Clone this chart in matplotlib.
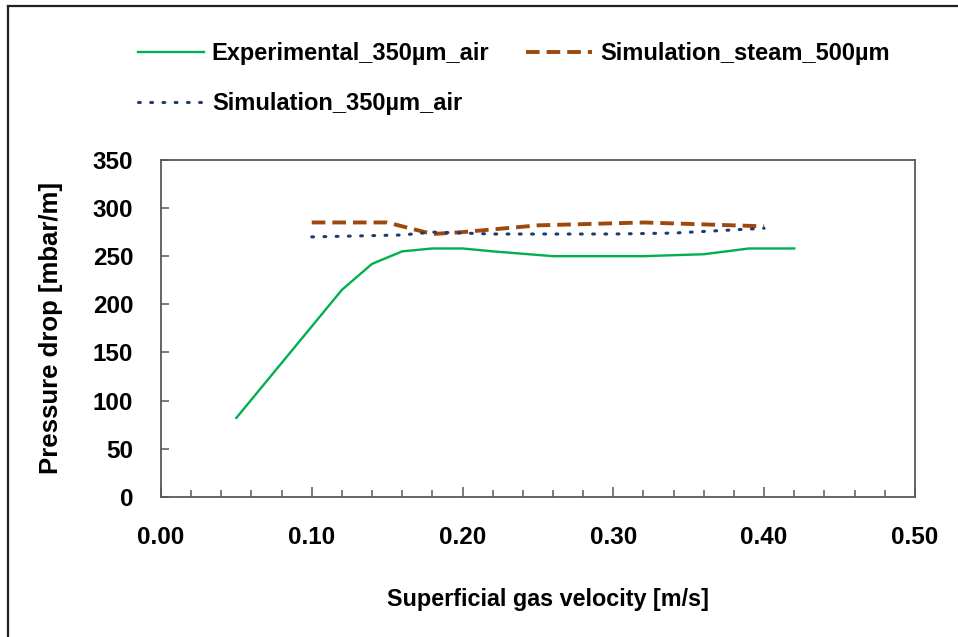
import matplotlib
matplotlib.use('Agg')
import matplotlib.pyplot as plt
from matplotlib.lines import Line2D
from matplotlib.ticker import MultipleLocator, FormatStrFormatter

# ------------------------------------------------------------
# data
# ------------------------------------------------------------
exp_x = [0.05, 0.10, 0.12, 0.14, 0.16, 0.18, 0.20, 0.22, 0.26, 0.32, 0.36, 0.39, 0.42]
exp_y = [82, 177, 215, 242, 255, 258, 258, 255, 250, 250, 252, 258, 258]

steam_x = [0.10, 0.15, 0.18, 0.20, 0.25, 0.32, 0.36, 0.40]
steam_y = [285, 285, 273, 275, 282, 285, 283, 281]

air_x = [0.10, 0.16, 0.18, 0.20, 0.22, 0.30, 0.34, 0.40]
air_y = [270, 272, 275, 274, 273, 273, 274, 279]

labels = ['Experimental_350µm_air', 'Simulation_steam_500µm', 'Simulation_350µm_air']

# ------------------------------------------------------------
# style
# ------------------------------------------------------------
plt.rcParams['font.family'] = ['Liberation Sans', 'DejaVu Sans']
plt.rcParams['font.weight'] = 'bold'
frame_col = '#595959'

fig = plt.figure(figsize=(9.58, 6.37), dpi=100)
ax = fig.add_axes([0.168, 0.220, 0.787, 0.529])

l_exp, = ax.plot(exp_x, exp_y, color='#00B050', linewidth=1.7, label=labels[0])
l_steam, = ax.plot(steam_x, steam_y, color='#9E480E', linewidth=2.8,
                   linestyle=(0, (3.5, 1.8)), label=labels[1])
l_air, = ax.plot(air_x, air_y, color='#1F3A70', linewidth=2.2,
                 linestyle=(0, (0.6, 3.4)), dash_capstyle='round', label=labels[2])

ax.set_xlim(0, 0.5)
ax.set_ylim(0, 350)
ax.xaxis.set_major_locator(MultipleLocator(0.1))
ax.xaxis.set_minor_locator(MultipleLocator(0.02))
ax.xaxis.set_major_formatter(FormatStrFormatter('%.2f'))
ax.yaxis.set_major_locator(MultipleLocator(50))

ax.tick_params(axis='x', which='major', direction='in', length=7, width=1.1,
               color=frame_col, pad=21, labelsize=17.5)
ax.tick_params(axis='x', which='minor', direction='in', length=5, width=1.1, color=frame_col)
ax.tick_params(axis='y', which='major', direction='in', length=6, width=1.1,
               color=frame_col, pad=20, labelsize=17.5)

for sp in ax.spines.values():
    sp.set_color(frame_col)
    sp.set_linewidth(1.3)

ax.set_xlabel('Superficial gas velocity [m/s]', fontsize=16.8, fontweight='bold',
              labelpad=28, x=0.513)
ax.set_ylabel('Pressure drop [mbar/m]', fontsize=18.5, fontweight='bold', labelpad=21)

# legend on top, two columns (row 1: exp + steam, row 2: air)
fig.legend(handles=[l_exp, l_air, l_steam],
           labels=[labels[0], labels[2], labels[1]],
           loc='upper left', bbox_to_anchor=(0.1215, 0.967), ncol=2,
           frameon=False, handlelength=2.8, handletextpad=0.34,
           columnspacing=1.55, labelspacing=1.14,
           prop={'weight': 'bold', 'size': 17})

# chart border (left and top edges visible in the reference)
fig.add_artist(Line2D([8 / 958, 8 / 958], [0, 1 - 6 / 637], color='#222222',
                      linewidth=1.6, transform=fig.transFigure))
fig.add_artist(Line2D([8 / 958, 1], [1 - 6 / 637, 1 - 6 / 637], color='#222222',
                      linewidth=1.6, transform=fig.transFigure))

fig.savefig('out.png', dpi=100)
